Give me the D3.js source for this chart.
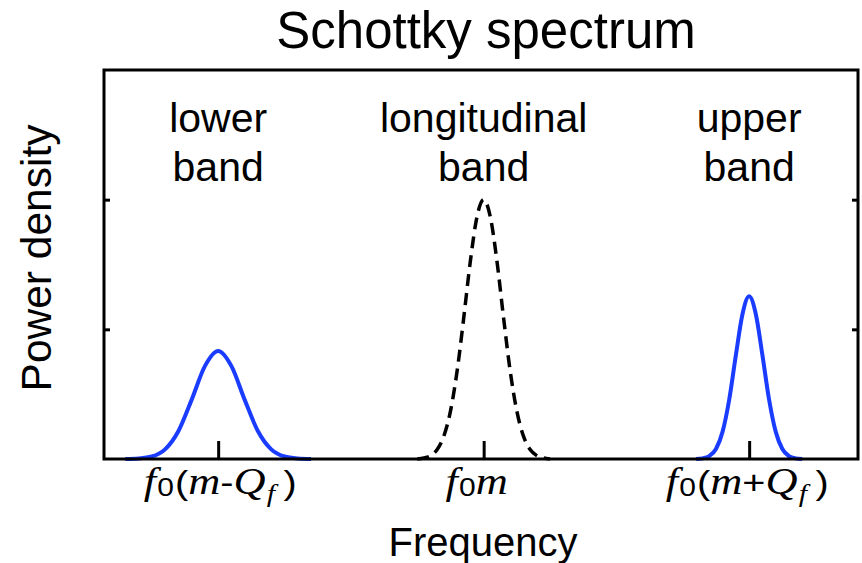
<!DOCTYPE html>
<html>
<head>
<meta charset="utf-8">
<script src="https://cdn.jsdelivr.net/npm/d3@7"></script>
<style>
  html, body { margin: 0; padding: 0; background: #fff; }
  svg { display: block; }
  .sans { font-family: "Liberation Sans", Arial, Helvetica, sans-serif; fill: #000; }
  .serif { font-family: "Liberation Serif", "Times New Roman", serif; font-style: italic; fill: #000; }
</style>
</head>
<body>
<svg id="chart" width="862" height="563"></svg>
<script>
// Band profiles (frequency in units of f0 offsets from f0·m, power in arbitrary units)
const lowerFreq  = [-1.35, -1.30, -1.25, -1.20, -1.15, -1.10, -1.05, -1.00, -0.95, -0.90, -0.85, -0.80, -0.75, -0.70, -0.65];
const lowerPower = [0, 0.004, 0.019, 0.074, 0.214, 0.456, 0.716, 0.833, 0.716, 0.456, 0.214, 0.074, 0.019, 0.004, 0];

const longFreq  = [-0.250, -0.225, -0.200, -0.175, -0.150, -0.125, -0.100, -0.075, -0.050, -0.025, 0,
                    0.025, 0.050, 0.075, 0.100, 0.125, 0.150, 0.175, 0.200, 0.225, 0.250];
const longPower = [0, 0.008, 0.026, 0.073, 0.176, 0.369, 0.678, 1.089, 1.527, 1.869, 2.0,
                   1.869, 1.527, 1.089, 0.678, 0.369, 0.176, 0.073, 0.026, 0.008, 0];

const upperFreq  = [0.800, 0.825, 0.850, 0.875, 0.900, 0.925, 0.950, 0.975, 1.000,
                    1.025, 1.050, 1.075, 1.100, 1.125, 1.150, 1.175, 1.200];
const upperPower = [0, 0.005, 0.023, 0.077, 0.211, 0.459, 0.801, 1.118, 1.255,
                    1.118, 0.801, 0.459, 0.211, 0.077, 0.023, 0.005, 0];

// Axis ticks and labels
const xTicks = [-1, 0, 1];
const yTicks = [1, 2];
const bandLabels = [["lower", "band"], ["longitudinal", "band"], ["upper", "band"]];
// Tick labels as runs: [text, kind] where kind picks the font treatment
const xTickLabels = [
  [["f", "it"], ["0", "sub0"], ["(", "par"], ["m", "it"], ["-", "op"], ["Q", "it"], ["f", "subf"], [")", "close"]],
  [["f", "it"], ["0", "sub0"], ["m", "it"]],
  [["f", "it"], ["0", "sub0"], ["(", "par"], ["m", "it"], ["+", "op"], ["Q", "it"], ["f", "subf"], [")", "close"]]
];
const titleText = "Schottky spectrum";
const xTitle = "Frequency";
const yTitle = "Power density";

const svg = d3.select("#chart");
const plot = { left: 104, right: 858, top: 70, bottom: 459 };

const x = d3.scaleLinear().domain([-1.43, 1.41]).range([plot.left, plot.right]);
const y = d3.scaleLinear().domain([0, 3]).range([plot.bottom, plot.top]);

const line = d3.line()
  .x(d => x(d[0]))
  .y(d => y(d[1]))
  .curve(d3.curveMonotoneX);

const zip = (a, b) => a.map((v, i) => [v, b[i]]);

// Curves
svg.append("path")
  .datum(zip(lowerFreq, lowerPower))
  .attr("d", line)
  .attr("fill", "none")
  .attr("stroke", "#1a3cff")
  .attr("stroke-width", 4)
  .attr("stroke-linejoin", "round");

svg.append("path")
  .datum(zip(upperFreq, upperPower))
  .attr("d", line)
  .attr("fill", "none")
  .attr("stroke", "#1a3cff")
  .attr("stroke-width", 4)
  .attr("stroke-linejoin", "round");

svg.append("path")
  .datum(zip(longFreq, longPower))
  .attr("d", line)
  .attr("fill", "none")
  .attr("stroke", "#000")
  .attr("stroke-width", 3.5)
  .attr("stroke-dasharray", "12,7");

// Axes (ticks drawn inward)
const styleAxis = g => {
  g.select(".domain").remove();
  g.selectAll(".tick line").attr("stroke", "#000").attr("stroke-width", 3);
  g.selectAll(".tick text").remove();
};

svg.append("g")
  .attr("transform", `translate(0,${plot.bottom})`)
  .call(d3.axisBottom(x).tickValues(xTicks).tickSizeInner(-18).tickSizeOuter(0).tickFormat(""))
  .call(styleAxis);

svg.append("g")
  .attr("transform", `translate(${plot.left},0)`)
  .call(d3.axisLeft(y).tickValues(yTicks).tickSizeInner(-6).tickSizeOuter(0).tickFormat(""))
  .call(styleAxis);

svg.append("g")
  .attr("transform", `translate(${plot.right},0)`)
  .call(d3.axisRight(y).tickValues(yTicks).tickSizeInner(-6).tickSizeOuter(0).tickFormat(""))
  .call(styleAxis);

// Frame
svg.append("rect")
  .attr("x", plot.left)
  .attr("y", plot.top)
  .attr("width", plot.right - plot.left)
  .attr("height", plot.bottom - plot.top)
  .attr("fill", "none")
  .attr("stroke", "#000")
  .attr("stroke-width", 3);

// Title
svg.append("text")
  .attr("class", "sans")
  .attr("x", 486)
  .attr("y", 48)
  .attr("text-anchor", "middle")
  .style("font-size", "51px")
  .text(titleText);

// Band labels above each peak
bandLabels.forEach((lines, i) => {
  const t = svg.append("text")
    .attr("class", "sans")
    .attr("text-anchor", "middle")
    .style("font-size", "41px");
  lines.forEach((s, j) => {
    t.append("tspan")
      .attr("x", x(xTicks[i]))
      .attr("y", 132 + j * 49)
      .text(s);
  });
});

// Frequency tick labels: math-style runs, stretched horizontally
const runStyle = {
  it:    { cls: "serif", size: 37, dy: 0, dx: 0 },
  sub0:  { cls: "sans",  size: 25, dy: 2, dx: 1 },
  par:   { cls: "sans",  size: 33, dy: 0, dx: 1 },
  op:    { cls: "sans",  size: 33, dy: 0, dx: 0 },
  subf:  { cls: "serif", size: 25, dy: 8, dx: 1 },
  close: { cls: "sans",  size: 33, dy: 0, dx: 7 }
};
const labelShift = [2, -7, -2];
xTickLabels.forEach((runs, i) => {
  const g = svg.append("g")
    .attr("transform", `translate(${x(xTicks[i]) + labelShift[i]},494) scale(1.2,1)`);
  const t = g.append("text")
    .attr("x", 0)
    .attr("y", 0)
    .attr("text-anchor", "middle")
    .style("font-size", "33px")
    .attr("fill", "#000");
  let prevDy = 0;
  runs.forEach(([s, kind]) => {
    const st = runStyle[kind];
    t.append("tspan")
      .attr("class", st.cls)
      .style("font-size", st.size + "px")
      .attr("dx", st.dx)
      .attr("dy", st.dy - prevDy)
      .text(s);
    prevDy = st.dy;
  });
});

// Axis titles
svg.append("text")
  .attr("class", "sans")
  .attr("x", 483)
  .attr("y", 556)
  .attr("text-anchor", "middle")
  .style("font-size", "40px")
  .text(xTitle);

svg.append("text")
  .attr("class", "sans")
  .attr("transform", "translate(51,258) rotate(-90)")
  .attr("text-anchor", "middle")
  .style("font-size", "42.5px")
  .text(yTitle);
</script>
</body>
</html>
